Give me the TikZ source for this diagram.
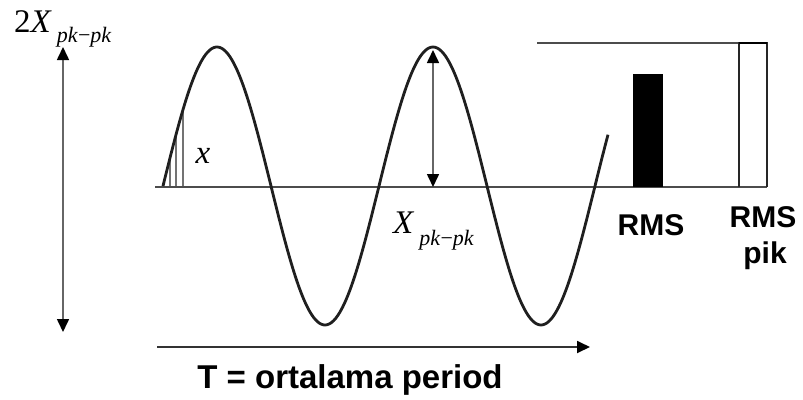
\documentclass[tikz,border=0pt]{standalone}
\usepackage{fontspec}
\setmainfont{Liberation Serif}
\newfontfamily\arl{Liberation Sans}
\usetikzlibrary{arrows.meta}
\tikzset{
  wave/.style={draw=black!88, line width=2.8pt, line join=round},
  axisline/.style={draw=black!70, line width=1.6pt},
  dimarrow/.style={draw=black!60, line width=1.6pt, {Triangle[length=13pt,width=12pt,color=black]}-{Triangle[length=13pt,width=12pt,color=black]}},
  timearrow/.style={draw=black!80, line width=1.8pt, -{Triangle[length=13pt,width=12pt,color=black]}},
  sample/.style={draw=black!55, line width=1.2pt},
  barline/.style={draw=black!85, line width=1.3pt},
  bigsans/.style={font=\arl\bfseries\fontsize{33}{36}\selectfont, inner sep=0pt},
  rmssans/.style={font=\arl\bfseries\fontsize{30}{36}\selectfont, inner sep=0pt},
  mathlbl/.style={font=\fontsize{33}{36}\selectfont, inner sep=0pt}
}
\begin{document}
\begin{tikzpicture}[x=1pt,y=-1pt]
\useasboundingbox (0,0) rectangle (803,399);
% coordinates
\coordinate (b0) at (155,187);
\coordinate (b1) at (767,187);
\coordinate (t0) at (537,43);
\coordinate (t1) at (767,43);
\coordinate (la) at (63,47);
\coordinate (lb) at (63,332);
\coordinate (ma) at (433,50);
\coordinate (mb) at (433,187);
\coordinate (ta) at (157,347);
\coordinate (tb) at (590,347);
% sample lines
\foreach \s/\n in {170/s1,176/s2,183/s3}{
  \coordinate (\n top) at (\s,{186-139*sin((\s-163)/216*360)});
  \coordinate (\n bot) at (\s,187);
  \draw[sample] (\n bot) -- (\n top);
}
% axes
\draw[axisline] (b0) -- (b1);
\draw[axisline, line width=1.3pt] (t0) -- (t1);
% wave
\draw[wave, domain=163:608, samples=220, smooth] plot (\x,{186-139*sin((\x-163)/216*360)});
% bars
\fill[black] (633,74) rectangle (663,187);
\draw[barline] (739,187) -- (739,43) -- (767,43) -- (767,187);
\draw[line width=2.6pt] (739,43) -- (767,43);
% arrows
\draw[dimarrow] (la) -- (lb);
\draw[dimarrow] (ma) -- (mb);
\draw[timearrow] (ta) -- (tb);
% labels
\node[mathlbl, anchor=base west] (lbl2x) at (14,32) {2\textit{X}\hspace{5pt}\raisebox{-10pt}{\fontsize{22}{24}\selectfont\textit{pk}−\textit{pk}}};
\node[mathlbl, anchor=base west] (lblx) at (393,233) {\textit{X}\hspace{5pt}\raisebox{-12pt}{\fontsize{22}{24}\selectfont\textit{pk}−\textit{pk}}};
\node[mathlbl, anchor=base] (lblsmall) at (203,163) {\textit{x}};
\node[bigsans, anchor=base] (lblT) at (350,388) {T = ortalama period};
\node[rmssans, anchor=base] (lblrms) at (651,235) {RMS};
\node[rmssans, anchor=base] (lblrms2) at (763,227) {RMS};
\node[rmssans, anchor=base] (lblpik) at (765,263) {pik};
\end{tikzpicture}
\end{document}
